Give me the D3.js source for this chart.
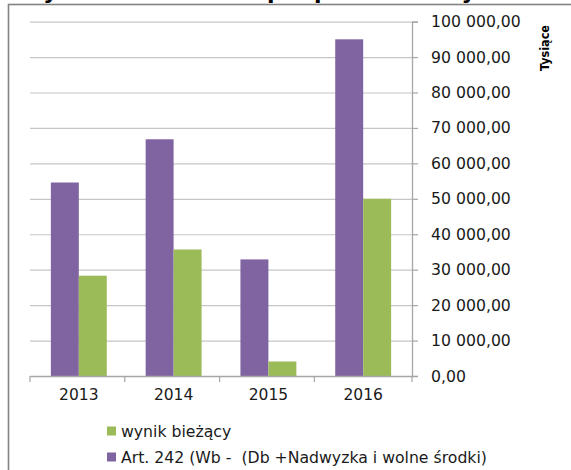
<!DOCTYPE html>
<html>
<head>
<meta charset="utf-8">
<script src="https://cdn.jsdelivr.net/npm/d3@7"></script>
<style>
  body { margin: 0; background: #fff; }
  svg { display: block; }
  text { font-family: "DejaVu Sans", sans-serif; fill: #1a1a1a; }
</style>
</head>
<body>
<svg id="chart"></svg>
<script>
// data (Tysiące)
var years = ["2013", "2014", "2015", "2016"];
var art242 = [54600, 66800, 32900, 95000];
var wynik = [28300, 35700, 4100, 50000];
var yTicks = [0, 10000, 20000, 30000, 40000, 50000, 60000, 70000, 80000, 90000, 100000];
var seriesNames = ["Art. 242 (Wb -  (Db +Nadwyzka i wolne środki)", "wynik bieżący"];
var seriesColors = ["#8064A2", "#9BBB59"];

var width = 571, height = 470;
var svg = d3.select("#chart").attr("width", width).attr("height", height);

var pl = d3.formatLocale({decimal: ",", thousands: "\u00a0", grouping: [3], currency: ["", " zł"]});
var fmt = pl.format(",.2f");

// title, cut off at the top of the picture (only the descenders show)
var titleWords = [
    {t: "Wynik", x: 19},
    {t: "budżetu", x: 102},
    {t: "a", x: 211},
    {t: "po", x: 267},
    {t: "planie", x: 314},
    {t: "kwoty", x: 401}
];
svg.append("text")
    .attr("y", -1.2)
    .style("font-weight", "bold")
    .style("font-size", "22px")
    .style("fill", "#000")
    .selectAll("tspan")
    .data(titleWords)
    .enter().append("tspan")
    .attr("x", function(d) { return d.x; })
    .text(function(d) { return d.t; });

// chart area border
svg.append("rect")
    .attr("x", 8.5).attr("y", 4.5)
    .attr("width", 600).attr("height", 500)
    .attr("fill", "none")
    .attr("stroke", "#838383")
    .attr("stroke-width", 1.6);

var x0 = d3.scaleBand()
    .domain(years)
    .range([30, 412])
    .paddingInner(0.41)
    .paddingOuter(0.22);

var x1 = d3.scaleBand()
    .domain([0, 1])
    .range([0, x0.bandwidth()]);

var y = d3.scaleLinear()
    .domain([0, 100000])
    .range([376, 21.6]);

// gridlines
var grid = svg.append("g")
    .attr("transform", "translate(30,0)")
    .call(d3.axisLeft(y).tickValues(yTicks).tickSize(-(412 - 30)).tickFormat(""));
grid.select(".domain").remove();
grid.selectAll(".tick line").attr("stroke", "#c6c6c6").attr("stroke-width", 1.2);

// bars
var rows = years.map(function(d, i) { return {year: d, vals: [art242[i], wynik[i]]}; });
var groups = svg.selectAll(".grp")
    .data(rows)
    .enter().append("g")
    .attr("class", "grp")
    .attr("transform", function(d) { return "translate(" + x0(d.year) + ",0)"; });

groups.selectAll("rect")
    .data(function(d) { return d.vals; })
    .enter().append("rect")
    .attr("x", function(d, i) { return x1(i); })
    .attr("y", function(d) { return y(d); })
    .attr("width", x1.bandwidth())
    .attr("height", function(d) { return y(0) - y(d); })
    .attr("fill", function(d, i) { return seriesColors[i]; });

// right value axis
var yAxis = svg.append("g")
    .attr("transform", "translate(412,0)")
    .call(d3.axisRight(y).tickValues(yTicks).tickSize(6).tickPadding(13).tickFormat(fmt));
yAxis.select(".domain").attr("stroke", "#a6a6a6").attr("stroke-width", 1.3);
yAxis.selectAll(".tick line").attr("stroke", "#a6a6a6").attr("stroke-width", 1.2);
yAxis.selectAll(".tick text")
    .style("font-size", "15.7px")
    .style("font-family", "'DejaVu Sans', sans-serif")
    .attr("fill", "#1a1a1a");

// category axis
var xAxis = svg.append("g")
    .attr("transform", "translate(0,376)")
    .call(d3.axisBottom(x0).tickSize(0).tickPadding(13));
xAxis.select(".domain").attr("stroke", "#a6a6a6").attr("stroke-width", 1.3);
xAxis.selectAll(".tick text")
    .style("font-size", "15.5px")
    .style("font-family", "'DejaVu Sans', sans-serif")
    .attr("fill", "#1a1a1a");

var bounds = years.map(function(d, i) { return x0.range()[0] + i * x0.step(); }).concat([x0.range()[1]]);
xAxis.selectAll(".bound")
    .data(bounds)
    .enter().append("line")
    .attr("class", "bound")
    .attr("x1", function(d) { return d; })
    .attr("x2", function(d) { return d; })
    .attr("y1", 0)
    .attr("y2", 6)
    .attr("stroke", "#a6a6a6")
    .attr("stroke-width", 1.2);

// unit label
svg.append("text")
    .attr("transform", "translate(549,48) rotate(-90)")
    .attr("text-anchor", "middle")
    .style("font-family", "'DejaVu Sans Condensed', 'DejaVu Sans', sans-serif")
    .style("font-weight", "bold")
    .style("font-size", "12.5px")
    .style("fill", "#000")
    .text("Tysiące");

// legend (green first, as in the picture)
var legendItems = [{name: seriesNames[1], color: seriesColors[1]}, {name: seriesNames[0], color: seriesColors[0]}];
var legend = svg.selectAll(".leg")
    .data(legendItems)
    .enter().append("g")
    .attr("class", "leg")
    .attr("transform", function(d, i) { return "translate(107," + (431 + i * 26) + ")"; });

legend.append("rect")
    .attr("x", 0).attr("y", -4.5)
    .attr("width", 9).attr("height", 9)
    .attr("fill", function(d) { return d.color; });

legend.append("text")
    .attr("x", 14)
    .attr("y", 0)
    .attr("dy", "0.35em")
    .style("font-size", "15.7px")
    .style("white-space", "pre")
    .text(function(d) { return d.name; });
</script>
</body>
</html>
